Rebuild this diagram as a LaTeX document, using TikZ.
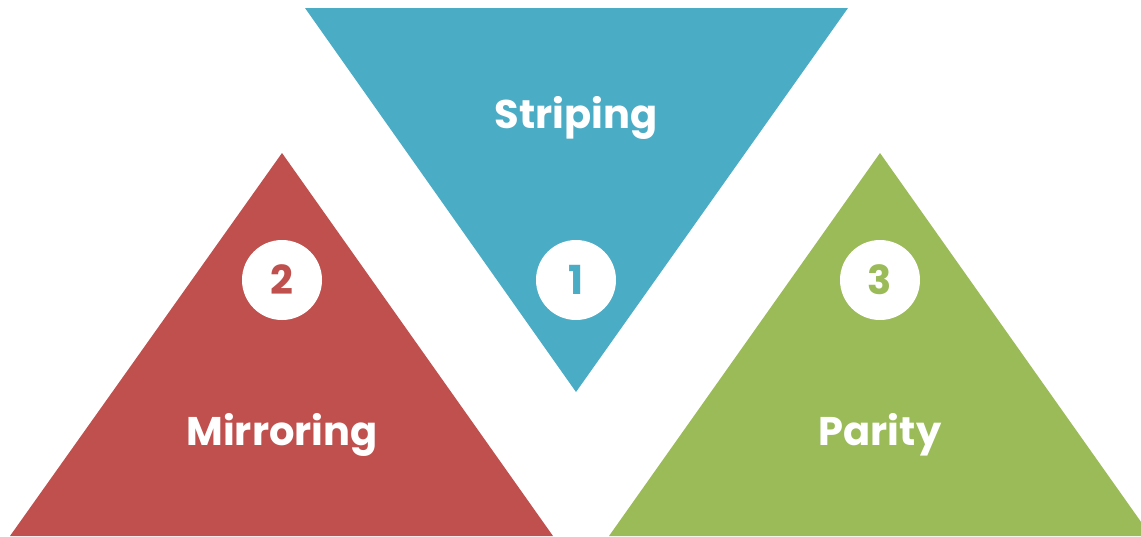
\documentclass[tikz,border=0pt]{standalone}
\usepackage{fontspec}
\setmainfont{Poppins}
\definecolor{stripeblue}{HTML}{4BACC6}
\definecolor{mirrorred}{HTML}{C0504D}
\definecolor{paritygreen}{HTML}{9BBB59}
\tikzset{
  numdisc/.style={circle,fill=white,minimum size=80pt,inner sep=0pt,
    font=\fontsize{40}{40}\selectfont\bfseries},
  raidlabel/.style={text=white,font=\fontsize{40}{40}\selectfont\bfseries}
}

\begin{document}
\begin{tikzpicture}[x=1pt,y=-1pt]
\useasboundingbox (0,0) rectangle (1141,536);
\clip (0,0) rectangle (1141,536);
\fill[stripeblue] (305,8) -- (848,8) -- (576,392) -- cycle;
\fill[mirrorred] (282,153) -- (553,536) -- (10,536) -- cycle;
\fill[paritygreen] (880,153) -- (1151,536) -- (609,536) -- cycle;
%
\node[raidlabel] (striping) at (576,118) {Striping};
\node[numdisc,text=stripeblue] (one) at (576,280) {1};
%
\node[numdisc,text=mirrorred] (two) at (282,280) {2};
\node[raidlabel] (mirroring) at (282,435) {Mirroring};
%
\node[numdisc,text=paritygreen] (three) at (880,280) {3};
\node[raidlabel] (parity) at (880,435) {Parity};
\end{tikzpicture}
\end{document}
